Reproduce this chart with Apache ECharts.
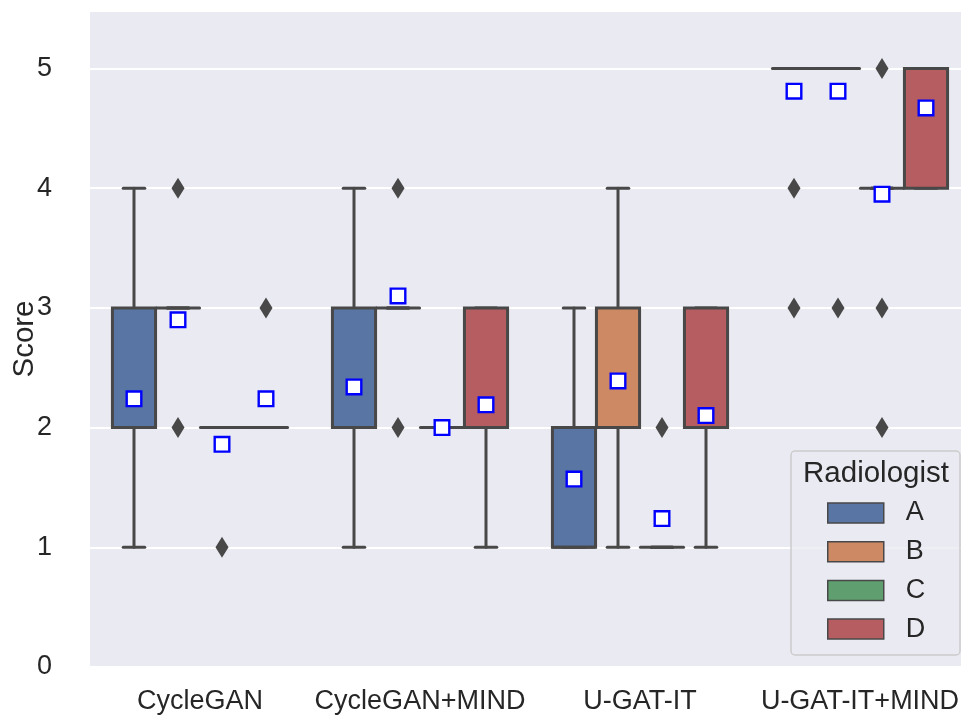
<!DOCTYPE html>
<html>
<head>
<meta charset="utf-8">
<script src="https://cdn.jsdelivr.net/npm/echarts@6/dist/echarts.min.js"></script>
<style>
html,body{margin:0;padding:0;background:#fff;}
#chart{width:961px;height:716px;}
</style>
</head>
<body>
<div id="chart"></div>
<script>
// ---- data ----
const categories = ['CycleGAN', 'CycleGAN+MIND', 'U-GAT-IT', 'U-GAT-IT+MIND'];
const radiologists = ['A', 'B', 'C', 'D'];
const yTicks = [0, 1, 2, 3, 4, 5];

// box stats per category: [lowWhisker, q1, median, q3, highWhisker]
const boxA = [[1, 2, 2, 3, 4], [1, 2, 2, 3, 4], [1, 1, 1, 2, 3], [5, 5, 5, 5, 5]];
const boxB = [[3, 3, 3, 3, 3], [3, 3, 3, 3, 3], [1, 2, 2, 3, 4], [5, 5, 5, 5, 5]];
const boxC = [[2, 2, 2, 2, 2], [2, 2, 2, 2, 2], [1, 1, 1, 1, 1], [4, 4, 4, 4, 4]];
const boxD = [[2, 2, 2, 2, 2], [1, 2, 2, 3, 3], [1, 2, 2, 3, 3], [4, 4, 5, 5, 5]];

// outliers: [categoryIndex, value]
const outA = [[3, 4], [3, 3]];
const outB = [[0, 4], [0, 2], [1, 4], [1, 2], [3, 3]];
const outC = [[0, 1], [2, 2], [3, 5], [3, 3], [3, 2]];
const outD = [[0, 3]];

// means per category
const meanA = [2.24, 2.34, 1.57, 4.81];
const meanB = [2.90, 3.10, 2.39, 4.81];
const meanC = [1.86, 2.00, 1.24, 3.95];
const meanD = [2.24, 2.19, 2.10, 4.67];

// ---- styling ----
const colors = ['#5975a4', '#cc8963', '#5f9e6e', '#b55d60'];
const LINE = '#484848';
const TEXT = '#262626';
const FONT = "'Liberation Sans', Arial, sans-serif";
const HUE_W = 0.2;
const BOX_W = 0.196;
const LW = 3;

const boxes = [boxA, boxB, boxC, boxD];
const outs = [outA, outB, outC, outD];
const means = [meanA, meanB, meanC, meanD];
const hueOffset = h => (h - 1.5) * HUE_W;

function renderBox(params, api) {
  const x = api.value(0);
  const lo = api.value(1), q1 = api.value(2), med = api.value(3), q3 = api.value(4), hi = api.value(5);
  const cx = api.coord([x, q1])[0];
  const w = api.size([BOX_W, 0])[0];
  const yLo = api.coord([x, lo])[1];
  const yQ1 = api.coord([x, q1])[1];
  const yMed = api.coord([x, med])[1];
  const yQ3 = api.coord([x, q3])[1];
  const yHi = api.coord([x, hi])[1];
  const ls = {stroke: LINE, lineWidth: LW, lineCap: 'round', fill: null};
  const capW = w / 2;
  const children = [];
  if (yHi < yQ3) children.push({type: 'line', shape: {x1: cx, y1: yQ3, x2: cx, y2: yHi}, style: ls});
  if (yLo > yQ1) children.push({type: 'line', shape: {x1: cx, y1: yQ1, x2: cx, y2: yLo}, style: ls});
  children.push({type: 'line', shape: {x1: cx - capW / 2, y1: yHi, x2: cx + capW / 2, y2: yHi}, style: ls});
  children.push({type: 'line', shape: {x1: cx - capW / 2, y1: yLo, x2: cx + capW / 2, y2: yLo}, style: ls});
  if (Math.abs(yQ1 - yQ3) < 0.5) {
    children.push({type: 'line', shape: {x1: cx - w / 2, y1: yQ1, x2: cx + w / 2, y2: yQ1}, style: ls});
  } else {
    children.push({
      type: 'rect',
      shape: {x: cx - w / 2, y: yQ3, width: w, height: yQ1 - yQ3},
      style: {fill: api.visual('color'), stroke: LINE, lineWidth: LW}
    });
    children.push({type: 'line', shape: {x1: cx - w / 2, y1: yMed, x2: cx + w / 2, y2: yMed},
      style: {stroke: LINE, lineWidth: LW}});
  }
  return {type: 'group', children: children};
}

const series = [];
radiologists.forEach((name, h) => {
  series.push({
    name: name,
    type: 'custom',
    xAxisIndex: 1,
    yAxisIndex: 0,
    itemStyle: {color: colors[h]},
    renderItem: renderBox,
    encode: {x: 0, y: [1, 2, 3, 4, 5]},
    data: boxes[h].map((b, i) => [i + hueOffset(h)].concat(b)),
    z: 2
  });
});
radiologists.forEach((name, h) => {
  series.push({
    name: 'outliers ' + name,
    type: 'scatter',
    xAxisIndex: 1,
    yAxisIndex: 0,
    symbol: 'diamond',
    symbolSize: [13, 21],
    itemStyle: {color: LINE, opacity: 1},
    data: outs[h].map(o => [o[0] + hueOffset(h), o[1]]),
    z: 3,
    silent: true
  });
});
radiologists.forEach((name, h) => {
  series.push({
    name: 'mean ' + name,
    type: 'scatter',
    xAxisIndex: 1,
    yAxisIndex: 0,
    symbol: 'rect',
    symbolSize: 14.6,
    itemStyle: {color: '#ffffff', borderColor: '#0000ff', borderWidth: 2.4, opacity: 1},
    data: means[h].map((m, i) => [i + hueOffset(h), m]),
    z: 4,
    silent: true
  });
});

const chart = echarts.init(document.getElementById('chart'), null, {renderer: 'canvas'});
chart.setOption({
  animation: false,
  backgroundColor: '#ffffff',
  textStyle: {fontFamily: FONT},
  grid: {left: 90, top: 11, width: 880, height: 656, show: true,
         backgroundColor: '#eaeaf2', borderWidth: 0, containLabel: false,
         outerBoundsMode: 'none'},
  xAxis: [
    {
      type: 'category',
      data: categories,
      boundaryGap: true,
      axisLine: {show: false},
      axisTick: {show: false},
      splitLine: {show: false},
      axisLabel: {color: TEXT, fontSize: 27, fontFamily: FONT, margin: 21, interval: 0}
    },
    {
      type: 'value',
      min: -0.5,
      max: 3.5,
      show: false
    }
  ],
  yAxis: [{
    type: 'value',
    min: 0,
    max: 5.48,
    interval: 1,
    name: 'Score',
    nameLocation: 'middle',
    nameRotate: 90,
    nameGap: 50,
    nameMoveOverlap: false,
    nameTextStyle: {color: TEXT, fontSize: 29.5, fontFamily: FONT},
    axisLine: {show: false},
    axisTick: {show: false},
    splitLine: {show: true, lineStyle: {color: '#ffffff', width: 2}},
    axisLabel: {
      color: TEXT, fontSize: 27, fontFamily: FONT, margin: 38,
      formatter: v => (yTicks.indexOf(v) >= 0 ? String(v) : '')
    }
  }],
  legend: {
    data: radiologists,
    orient: 'vertical',
    left: 827,
    top: 499.5,
    padding: 0,
    icon: 'rect',
    itemWidth: 56,
    itemHeight: 20,
    itemGap: 11.7,
    selectedMode: false,
    itemStyle: {borderColor: LINE, borderWidth: 1.5},
    textStyle: {color: TEXT, fontSize: 27, fontFamily: FONT, lineHeight: 27, padding: [0, 0, 0, 17]},
    z: 10
  },
  graphic: [
    {
      type: 'rect',
      z: 9,
      shape: {x: 791, y: 451, width: 169, height: 204, r: 4},
      style: {fill: 'rgba(234,234,242,0.8)', stroke: '#cccccc', lineWidth: 1.5}
    },
    {
      type: 'text',
      z: 10,
      style: {x: 876, y: 474, text: 'Radiologist', fill: TEXT,
              font: "29.5px 'Liberation Sans', Arial, sans-serif",
              textAlign: 'center', textVerticalAlign: 'middle'}
    }
  ],
  series: series
});
</script>
</body>
</html>
